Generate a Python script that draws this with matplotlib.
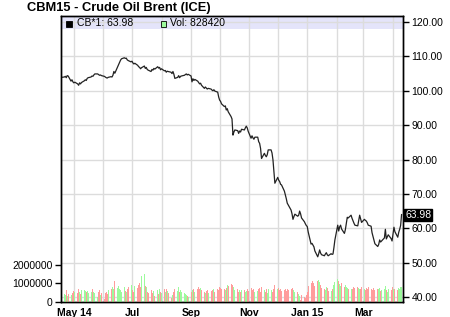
"""
Brent crude (ICE, June 2015 contract) daily closes with volume bars,
rebuilt from a small web chart snapshot.
"""

from datetime import datetime

import matplotlib
matplotlib.use("Agg")
from matplotlib import pyplot as plt
from matplotlib.dates import MonthLocator, num2date
from matplotlib.patches import Rectangle
from matplotlib.ticker import FuncFormatter, FixedLocator
from pandas import bdate_range

plt.rcParams["font.family"] = ["Liberation Sans", "DejaVu Sans"]

TITLE = "CBM15 - Crude Oil Brent (ICE)"
SYMBOL = "CB*1"
LAST_VOLUME = 828420

# trading days shown on the chart
DATES = bdate_range("2014-04-18", "2015-04-10")

# daily closes (one row per week, Mon..Fri)
CLOSE = [
    103.9,
    104.0, 104.2, 103.8, 104.4, 104.3,
    102.8, 103.2, 102.6, 102.3, 102.5,
    102.0, 101.6, 102.3, 102.0, 102.4,
    102.9, 103.2, 103.0, 103.6, 103.8,
    104.0, 104.3, 104.2, 104.6, 104.9,
    104.9, 104.7, 104.5, 104.6, 104.4,
    104.2, 104.0, 103.8, 103.7, 103.9,
    104.1, 104.0, 104.5, 105.6, 105.1,
    107.0, 107.6, 108.2, 108.9, 109.3,
    109.6, 109.4, 109.5, 109.0, 108.8,
    108.4, 108.6, 108.1, 107.8, 108.0,
    107.4, 107.0, 106.8, 106.4, 106.7,
    107.2, 106.5, 106.8, 106.2, 106.0,
    105.6, 106.2, 106.0, 106.5, 106.3,
    107.0, 106.6, 106.8, 106.1, 106.4,
    105.8, 105.9, 105.4, 105.7, 105.6,
    105.4, 105.0, 105.6, 104.8, 103.6,
    103.9, 104.4, 103.8, 104.2, 104.3,
    104.5, 104.7, 104.9, 104.6, 104.8,
    104.3, 102.6, 103.5, 103.0, 103.3,
    102.8, 102.4, 102.0, 102.2, 101.6,
    100.7, 101.1, 100.8, 100.5, 100.7,
    100.5, 100.2, 100.0, 100.3, 99.9,
    99.6, 98.2, 97.3, 96.9, 96.2,
    95.4, 95.6, 94.4, 94.8, 93.9,
    92.5, 91.8, 87.1, 88.0, 88.6,
    88.4, 87.6, 88.3, 88.0, 88.8,
    88.6, 89.2, 89.7, 89.2, 88.2,
    86.2, 86.9, 86.3, 85.9, 86.5,
    86.5, 85.2, 84.7, 83.2, 80.3,
    81.8, 81.2, 80.8, 81.4, 82.8,
    82.8, 81.9, 79.9, 76.5, 73.1,
    74.8, 74.0, 73.6, 72.8, 72.6,
    70.8, 69.7, 68.6, 67.3, 66.8,
    65.3, 64.2, 62.6, 63.4, 64.1,
    63.5, 63.8, 65.0, 64.2, 63.0,
    61.9, 61.3, 60.8, 60.5, 58.9,
    55.4, 55.6, 55.1, 54.6, 53.4,
    51.7, 52.6, 53.7, 52.8, 52.3,
    52.0, 52.5, 52.9, 52.3, 52.0,
    52.6, 52.4, 52.5, 54.4, 56.6,
    60.9, 59.2, 60.4, 60.9, 59.8,
    58.5, 59.6, 61.4, 63.2, 63.0,
    63.8, 62.9, 62.2, 61.5, 60.9,
    60.7, 62.2, 63.8, 62.8, 61.7,
    62.6, 62.3, 62.1, 61.6, 60.9,
    60.6, 58.7, 57.6, 56.4, 55.5,
    54.7, 55.3, 56.6, 56.0, 56.3,
    57.2, 59.7, 56.9, 57.5, 58.1,
    57.0, 56.3, 58.2, 60.3, 59.0,
    57.4, 58.8, 59.7, 60.8, 63.98,
]

# daily volume in thousands of contracts
VOLUME_K = [
    350,
    420, 380, 640, 300, 450,
    550, 380, 500, 600, 520,
    480, 700, 560, 430, 620,
    650, 580, 520, 600, 470,
    430, 510, 700, 560, 470,
    280, 520, 640, 380, 500,
    160, 460, 560, 420, 620,
    640, 700, 780, 700, 1120,
    760, 850, 720, 640, 560,
    780, 600, 520, 690, 820,
    260, 900, 640, 540, 880,
    760, 920, 1020, 800, 1380,
    1520, 860, 780, 560, 480,
    620, 520, 460, 580, 340,
    640, 420, 680, 520, 460,
    700, 520, 680, 600, 480,
    220, 120, 380, 560, 680,
    600, 780, 520, 640, 560,
    500, 420, 380, 300, 260,
    520, 580, 640, 720, 560,
    680, 820, 720, 760, 620,
    540, 480, 580, 620, 500,
    580, 520, 620, 700, 560,
    680, 620, 800, 760, 720,
    700, 640, 760, 900, 860,
    980, 1060, 920, 780, 640,
    700, 560, 640, 520, 620,
    640, 520, 580, 700, 600,
    760, 860, 640, 720, 560,
    600, 680, 740, 560, 780,
    620, 540, 700, 500, 680,
    640, 720, 560, 700, 900,
    720, 760, 640, 680, 600,
    640, 720, 580, 700, 660,
    720, 600, 760, 640, 540,
    560, 420, 300, 120, 380,
    280, 200, 360, 520, 880,
    1020, 940, 1100, 1040, 860,
    1120, 1180, 1060, 920, 760,
    720, 640, 820, 760, 600,
    580, 700, 760, 900, 1050,
    1230, 1100, 980, 860, 1040,
    780, 900, 820, 760, 700,
    680, 720, 760, 800, 740,
    820, 760, 700, 680, 800,
    720, 640, 760, 700, 780,
    700, 620, 800, 740, 660,
    720, 680, 760, 600, 640,
    700, 880, 640, 560, 720,
    640, 780, 900, 720, 680,
    620, 760, 700, 800, 828,
]

PRICE_TICKS = [40, 50, 60, 70, 80, 90, 100, 110, 120]
VOLUME_TICKS = [0, 1000000, 2000000]

UP = "#9cfa9c"
DOWN = "#ff9c9c"
GRID = "#dcdcdc"
BAND = "#e4e4fa"


def month_label(value, pos=None) -> str:
    # year only on the first tick and on January
    d = num2date(value)
    if d.month in (1, 5):
        return d.strftime("%b %y")
    return d.strftime("%b")


def bar_colors(close: list[float]) -> list[str]:
    colors = [DOWN]
    for prev, cur in zip(close[:-1], close[1:]):
        colors.append(UP if cur >= prev else DOWN)
    return colors


fig = plt.figure(figsize=(4.5, 3.17), dpi=100)
ax = fig.add_axes([61 / 450, 15 / 317, 342 / 450, 286 / 317])
# volume on a twin axis; twinx moves the price ticks, so set sides after it
vol = ax.twinx()
ax.yaxis.tick_right()
vol.yaxis.tick_left()

ax.set_ylim(38.55, 121.75)
ax.set_yticks(PRICE_TICKS)
ax.yaxis.set_major_formatter(FuncFormatter(lambda v, p: f"{v:.2f}"))
ax.set_xlim(datetime(2014, 4, 17, 12), datetime(2015, 4, 11, 12))

ax.xaxis.set_major_locator(MonthLocator(bymonth=[1, 3, 5, 7, 9, 11]))
ax.xaxis.set_minor_locator(MonthLocator())
ax.xaxis.set_major_formatter(FuncFormatter(month_label))
ax.grid(True, which="both", axis="x", color=GRID, linewidth=1.0, zorder=0)
ax.grid(True, which="major", axis="y", color=GRID, linewidth=1.0, zorder=0)
ax.tick_params(axis="x", which="both", length=0, pad=4, labelsize=7.5)
ax.tick_params(axis="y", length=4, width=1, pad=2, labelsize=7.5)
for label in ax.get_xticklabels():
    label.set_fontweight("bold")

# legend band across the top
ax.axhspan(118.0, 121.75, color=BAND, zorder=0.5, linewidth=0)

ax.plot(DATES, CLOSE, color="#222222", linewidth=0.9, zorder=3)

vol.set_ylim(0, 15300000)
vol.yaxis.set_major_locator(FixedLocator(VOLUME_TICKS))
vol.yaxis.set_major_formatter(FuncFormatter(lambda v, p: f"{int(v)}"))
vol.tick_params(axis="y", length=4, width=1, pad=2, labelsize=7.5)
vol.bar(DATES, [v * 1000 for v in VOLUME_K], width=1.0,
        color=bar_colors(CLOSE), linewidth=0, antialiased=False, zorder=2)

for a in (ax, vol):
    for side in a.spines.values():
        side.set_linewidth(1.0)
        side.set_color("black")

# legend entries inside the band
ax.add_patch(Rectangle((0.014, 0.963), 0.017, 0.021, transform=ax.transAxes,
                       facecolor="black", edgecolor="black", linewidth=0.6,
                       zorder=4, clip_on=False))
ax.text(0.047, 0.974, f"{SYMBOL}: {CLOSE[-1]:.2f}", transform=ax.transAxes,
        fontsize=7.5, va="center", ha="left", zorder=4)
ax.add_patch(Rectangle((0.291, 0.963), 0.017, 0.021, transform=ax.transAxes,
                       facecolor=UP, edgecolor="black", linewidth=0.6,
                       zorder=4, clip_on=False))
ax.text(0.32, 0.974, f"Vol: {LAST_VOLUME}", transform=ax.transAxes,
        fontsize=7.5, va="center", ha="left", zorder=4)

# last price flag on the right axis
ax.text(1.006, CLOSE[-1], f"{CLOSE[-1]:.2f}", transform=ax.get_yaxis_transform(),
        fontsize=7.5, color="white", va="center", ha="left",
        bbox=dict(boxstyle="square,pad=0.1", facecolor="black", edgecolor="black"),
        clip_on=False, zorder=5)

fig.text(27 / 450, 1 - 8 / 317, TITLE, fontsize=9.3, fontweight="bold",
         va="center", ha="left")

fig.savefig("out.png", dpi=100)
